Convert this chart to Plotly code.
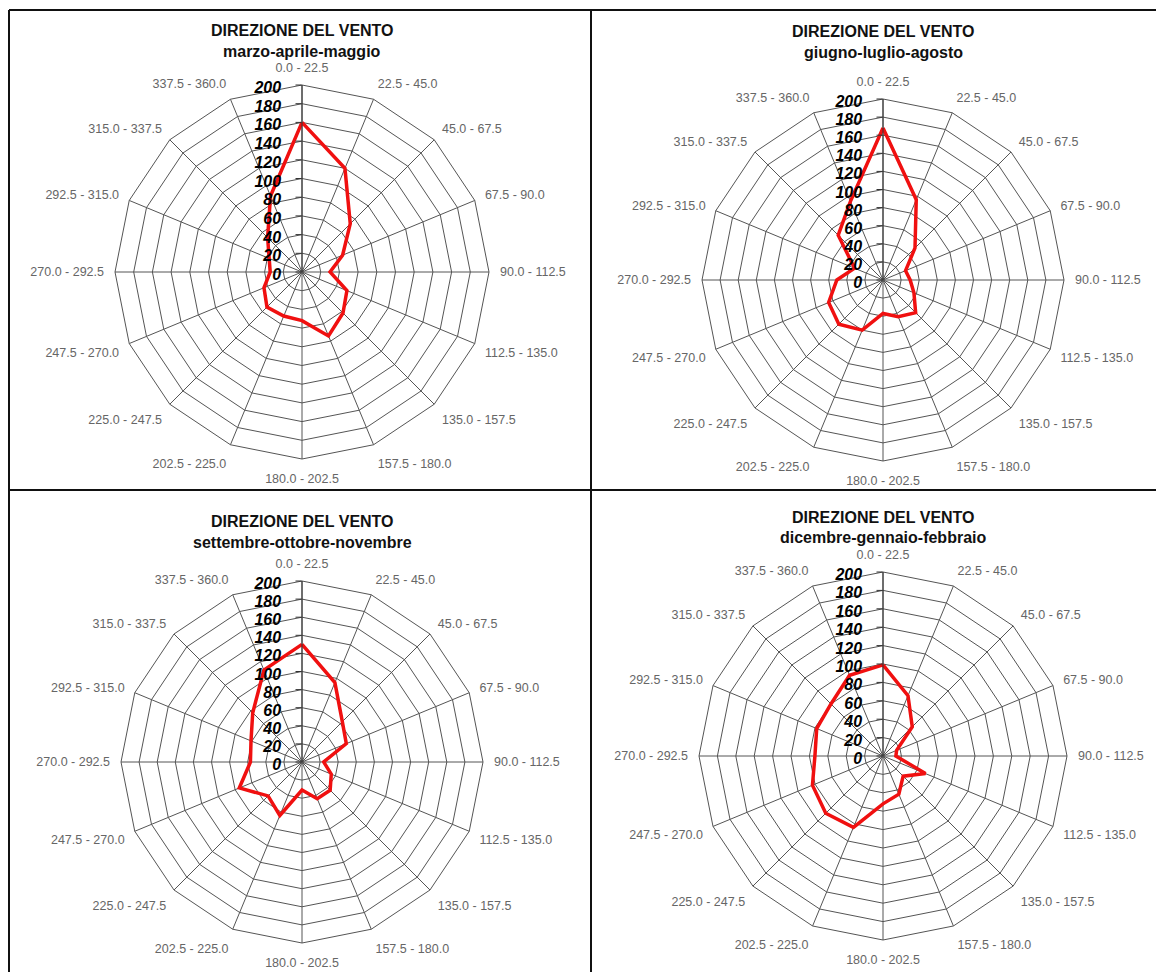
import plotly.graph_objects as go

W, H = 1156, 972

directions = ["0.0 - 22.5", "22.5 - 45.0", "45.0 - 67.5", "67.5 - 90.0",
              "90.0 - 112.5", "112.5 - 135.0", "135.0 - 157.5", "157.5 - 180.0",
              "180.0 - 202.5", "202.5 - 225.0", "225.0 - 247.5", "247.5 - 270.0",
              "270.0 - 292.5", "292.5 - 315.0", "315.0 - 337.5", "337.5 - 360.0"]

primavera = [160, 120, 73, 47, 30, 52, 62, 74, 52, 51, 53, 44, 34, 38, 52, 88]
estate = [168, 96, 50, 27, 30, 37, 51, 44, 37, 60, 69, 65, 51, 34, 70, 94]
autunno = [130, 95, 63, 53, 24, 35, 44, 44, 31, 64, 53, 75, 57, 61, 77, 110]
inverno = [99, 71, 45, 16, 14, 50, 31, 45, 52, 84, 88, 83, 74, 78, 80, 95]

title_main = "DIREZIONE DEL VENTO"
subtitles = ["marzo-aprile-maggio", "giugno-luglio-agosto",
             "settembre-ottobre-novembre", "dicembre-gennaio-febbraio"]
radial_ticks = list(range(0, 201, 20))

series = [primavera, estate, autunno, inverno]
# (center x, center y, radius) in pixels
geoms = [(302, 272, 187), (883, 280, 181), (302, 762, 181), (883, 756, 184)]
title_y = [(30, 51), (32, 53), (521, 542), (517, 537)]

fig = go.Figure()
layout = dict(width=W, height=H, margin=dict(l=0, r=0, t=0, b=0),
              paper_bgcolor="white", plot_bgcolor="white", showlegend=False)

for i, (vals, (cx, cy, R)) in enumerate(zip(series, geoms)):
    pname = "polar" if i == 0 else f"polar{i+1}"
    fig.add_trace(go.Scatterpolar(
        r=vals + vals[:1], theta=directions + directions[:1],
        mode="lines", line=dict(color="#f01010", width=3.5),
        subplot=pname, hoverinfo="skip"))
    layout[pname] = dict(
        domain=dict(x=[(cx - R) / W, (cx + R) / W],
                    y=[1 - (cy + R) / H, 1 - (cy - R) / H]),
        gridshape="linear",
        bgcolor="white",
        radialaxis=dict(range=[0, 200], tickvals=radial_ticks, angle=90,
                        side="counterclockwise", showline=True, linecolor="#333",
                        linewidth=1, gridcolor="#555", gridwidth=1,
                        ticks="outside", ticklen=6, tickcolor="#333",
                        tickfont=dict(family="Liberation Sans", size=16,
                                      color="black", weight="bold", style="italic")),
        angularaxis=dict(categoryorder="array", categoryarray=directions,
                         direction="clockwise", rotation=90,
                         showline=True, linecolor="#555", linewidth=1,
                         gridcolor="#555", gridwidth=1,
                         ticks="outside", ticklen=8, tickcolor="rgba(0,0,0,0)",
                         tickfont=dict(family="Liberation Sans", size=12.5,
                                       color="#666")),
    )

fig.update_layout(**layout)

annotations = []
for (cx, cy, R), (ty1, ty2), sub in zip(geoms, title_y, subtitles):
    annotations.append(dict(x=cx / W, y=1 - ty1 / H, xref="paper", yref="paper",
                            text=f"<b>{title_main}</b>", showarrow=False,
                            font=dict(family="Liberation Sans", size=16, color="#111"),
                            xanchor="center", yanchor="middle"))
    annotations.append(dict(x=cx / W, y=1 - ty2 / H, xref="paper", yref="paper",
                            text=f"<b>{sub}</b>", showarrow=False,
                            font=dict(family="Liberation Sans", size=16, color="#111"),
                            xanchor="center", yanchor="middle"))
fig.update_layout(annotations=annotations)

# panel frame (right and bottom edges fall outside the picture)
xl, xm = 9 / W, 591 / W
yt, ym = 1 - 10 / H, 1 - 490 / H
lc = dict(color="#111", width=2)
shapes = [
    dict(type="line", xref="paper", yref="paper", x0=xl, x1=1, y0=yt, y1=yt, line=lc),
    dict(type="line", xref="paper", yref="paper", x0=xl, x1=xl, y0=0, y1=yt, line=lc),
    dict(type="line", xref="paper", yref="paper", x0=xm, x1=xm, y0=0, y1=yt, line=lc),
    dict(type="line", xref="paper", yref="paper", x0=xl, x1=1, y0=ym, y1=ym, line=lc),
]
fig.update_layout(shapes=shapes)

fig.write_html("out.html",
               config={"displayModeBar": False},
               post_script="document.body.style.margin='0px';"
                           "document.body.style.overflow='hidden';")
